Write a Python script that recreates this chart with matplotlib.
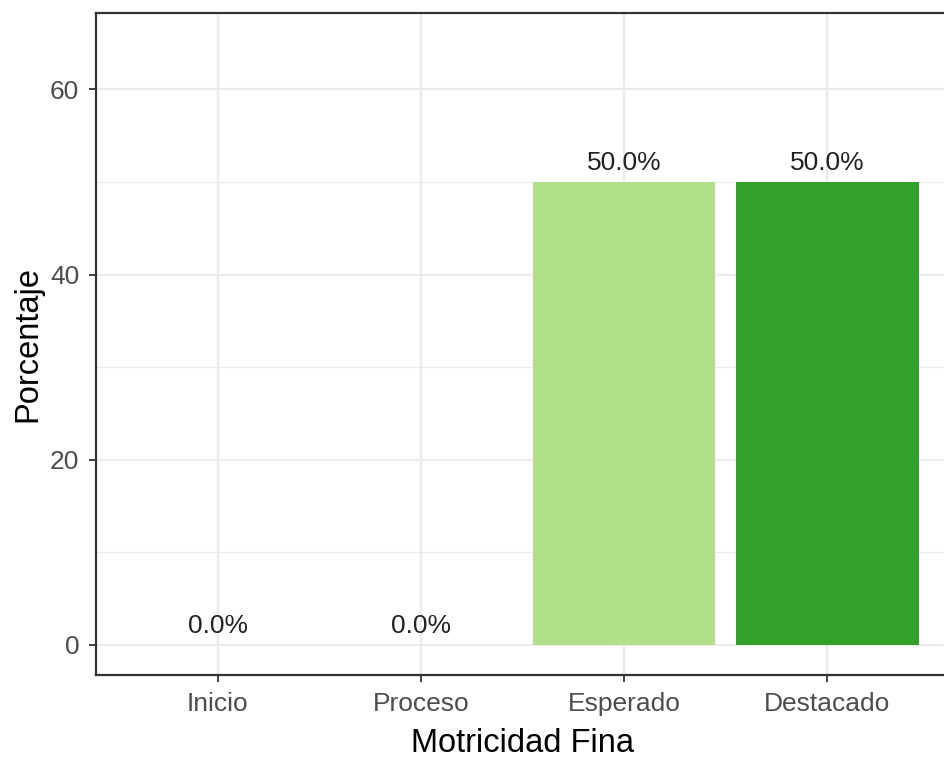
import matplotlib
matplotlib.use("Agg")
import matplotlib.pyplot as plt
from matplotlib.ticker import MultipleLocator

categories = ["Inicio", "Proceso", "Esperado", "Destacado"]
values = [0.0, 0.0, 50.0, 50.0]
colors = ["#A6CEE3", "#1F78B4", "#B2DF8A", "#33A02C"]
labels = [f"{v:.1f}%" for v in values]

plt.rcParams['font.family'] = ['Liberation Sans', 'DejaVu Sans']

W, H = 944, 758
fig = plt.figure(figsize=(W / 100, H / 100), dpi=100)
left, right, bottom, top = 96 / W, 949 / W, 83 / H, 745 / H
ax = fig.add_axes([left, bottom, right - left, top - bottom])

x = list(range(1, len(categories) + 1))
ax.bar(x, values, width=0.9, color=colors, zorder=3)
for xi, v, lab in zip(x, values, labels):
    ax.annotate(lab, (xi, v), xytext=(0, 5), textcoords="offset points",
                ha="center", va="bottom", fontsize=19, color="#222222",
                fontweight="medium", zorder=4)

ax.set_xlim(0.4, 4.6)
ax.set_ylim(-3.25, 68.25)
ax.set_xticks(x)
ax.set_xticklabels(categories)
ax.yaxis.set_major_locator(MultipleLocator(20))
ax.yaxis.set_minor_locator(MultipleLocator(10))
ax.grid(which="major", color="#EBEBEB", linewidth=1.6, zorder=0)
ax.grid(which="minor", axis="y", color="#EBEBEB", linewidth=0.9, zorder=0)
ax.tick_params(which="minor", length=0)
ax.tick_params(which="major", length=5, width=1.3, color="#333333",
               labelsize=19, labelcolor="#4D4D4D", pad=7)
for s in ax.spines.values():
    s.set_color("#333333")
    s.set_linewidth(1.6)

ax.set_xlabel("Motricidad Fina", fontsize=23.5, color="black", labelpad=9)
ax.set_ylabel("Porcentaje", fontsize=23.5, color="black", labelpad=5)

fig.savefig("out.png", dpi=100)
